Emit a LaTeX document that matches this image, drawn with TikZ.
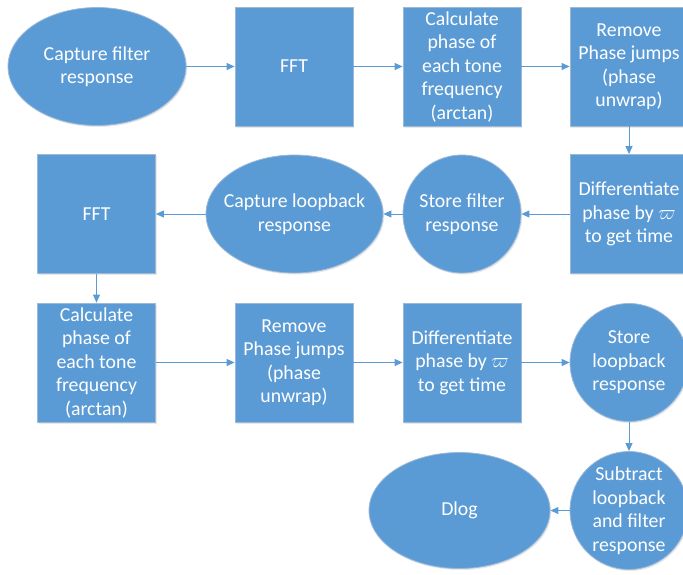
\documentclass[tikz,border=0pt]{standalone}
\usepackage{fontspec}
\setmainfont{Carlito}
\usetikzlibrary{arrows.meta,shapes.geometric,shadows}
\definecolor{boxblue}{HTML}{5B9BD5}
\definecolor{boxedge}{HTML}{9DB9D8}
\begin{document}
\begin{tikzpicture}[x=1pt,y=-1pt,
  base/.style={fill=boxblue,draw=boxedge,line width=0.8pt,text=white,align=center,inner sep=0pt,
    font=\fontsize{19.8}{23.5}\selectfont,
    drop shadow={opacity=0.18,shadow xshift=1.2pt,shadow yshift=-1.5pt}},
  boxnode/.style={base,rectangle,minimum width=118pt,minimum height=119pt},
  ovalnode/.style={base,ellipse,inner xsep=-20pt,minimum width=178pt,minimum height=118pt},
  roundnode/.style={base,circle,minimum size=118pt},
  conn/.style={draw=boxblue,line width=1pt,-{Triangle[length=8pt,width=7pt]}}
]
\useasboundingbox (0,0) rectangle (683,574);
\clip (0,0) rectangle (683,574);
% row 1
\node[ovalnode] (cfr) at (97,66.5) {Capture filter\\response};
\node[boxnode] (fft1) at (294,66.5) {FFT};
\node[boxnode] (calc1) at (462,66.5) {Calculate\\phase of\\each tone\\frequency\\(arctan)};
\node[boxnode] (rem1) at (629,66.5) {Remove\\Phase jumps\\(phase\\unwrap)};
% row 2
\node[boxnode] (fft2) at (96.5,214) {FFT};
\node[ovalnode,minimum width=177pt] (clr) at (294.5,214) {Capture loopback\\response};
\node[roundnode] (sfr) at (462,214) {Store filter\\response};
\node[boxnode] (diff1) at (629,214) {Differentiate\\phase by $\varpi$\\to get time};
% row 3
\node[boxnode] (calc2) at (96.5,362.5) {Calculate\\phase of\\each tone\\frequency\\(arctan)};
\node[boxnode] (rem2) at (294,362.5) {Remove\\Phase jumps\\(phase\\unwrap)};
\node[boxnode] (diff2) at (462,362.5) {Differentiate\\phase by $\varpi$\\to get time};
\node[roundnode] (slr) at (629,362.5) {Store\\loopback\\response};
% row 4
\node[ovalnode,minimum width=181pt,minimum height=116pt] (dlog) at (459.5,510.5) {Dlog};
\node[roundnode] (sub) at (629,510.5) {Subtract\\loopback\\and filter\\response};
% connectors
\draw[conn] (cfr) -- (fft1);
\draw[conn] (fft1) -- (calc1);
\draw[conn] (calc1) -- (rem1);
\draw[conn] (rem1) -- (diff1);
\draw[conn] (diff1) -- (sfr);
\draw[conn] (sfr) -- (clr);
\draw[conn] (clr) -- (fft2);
\draw[conn] (fft2) -- (calc2);
\draw[conn] (calc2) -- (rem2);
\draw[conn] (rem2) -- (diff2);
\draw[conn] (diff2) -- (slr);
\draw[conn] (slr) -- (sub);
\draw[conn] (sub) -- (dlog);
\end{tikzpicture}
\end{document}
